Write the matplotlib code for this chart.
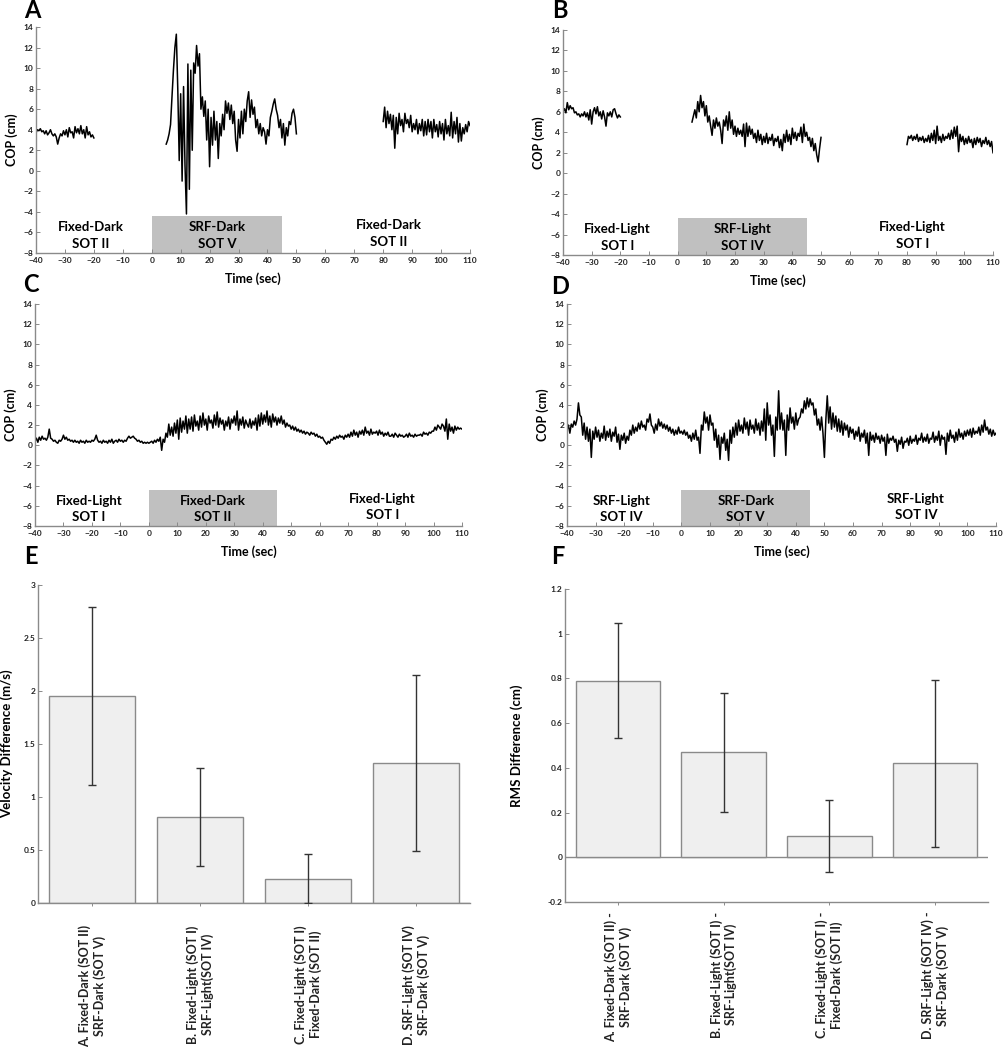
import numpy as np
import matplotlib.pyplot as plt
from matplotlib.patches import Rectangle

plt.rcParams['font.family'] = ['Lato', 'DejaVu Sans']
plt.rcParams['font.weight'] = 'bold'
plt.rcParams['axes.labelweight'] = 'bold'

dt = 0.5  # sample spacing (s) of the values

# ---- panel A: Fixed-Dark / SRF-Dark / Fixed-Dark
a_pre = [3.7, 4.0, 3.9, 4.1, 3.8, 3.9, 3.6, 3.9, 3.5, 3.7,
         4.0, 3.6, 3.4, 3.6, 3.3, 2.6, 3.2, 3.6, 3.4, 3.9,
         3.5, 4.0, 3.3, 4.2, 3.7, 3.8, 3.2, 4.3, 3.7, 4.1,
         3.6, 4.4, 3.6, 4.0, 3.2, 4.3, 3.5, 3.8, 3.3, 3.5, 3.2]
a_mid = [2.6, 3.0, 3.6, 4.5, 7.2, 9.8, 12.0, 13.3, 8.0, 1.0,
         7.5, -1.0, 8.2, 0.5, -4.2, 10.4, -1.8, 9.8, 2.0, 10.5,
         9.5, 12.2, 10.2, 11.4, 6.0, 7.2, 5.3, 6.8, 3.0, 6.0,
         0.4, 5.2, 2.5, 5.8, 3.0, 4.8, 1.2, 4.6, 3.4, 5.5,
         4.0, 6.8, 5.6, 6.6, 5.0, 6.4, 4.6, 5.8, 3.0, 1.9,
         5.0, 3.2, 5.8, 3.6, 6.0, 4.8, 6.8, 7.7, 5.2, 6.9,
         5.5, 6.2, 4.2, 5.0, 3.6, 4.6, 3.4, 4.2, 3.8, 2.6,
         4.0, 3.4, 5.2, 5.8, 6.5, 7.0, 6.0, 5.4, 4.2, 5.0,
         3.2, 4.6, 2.5, 4.2, 3.4, 4.8, 4.5, 5.6, 6.0, 5.2, 3.6]
a_post = [4.8, 6.2, 4.2, 5.8, 4.6, 5.5, 4.0, 5.4, 2.2,
          5.2, 3.6, 5.6, 4.4, 5.0, 3.8, 5.6, 4.6,
          5.0, 4.2, 5.4, 3.8, 4.6, 4.0, 5.0, 3.6,
          4.6, 3.9, 5.0, 3.4, 4.8, 3.5, 5.0, 3.8,
          4.8, 3.2, 5.0, 3.8, 4.5, 3.3, 4.8, 3.6,
          4.6, 3.0, 5.0, 3.6, 4.4, 3.4, 5.7, 3.2,
          4.8, 3.6, 5.2, 2.8, 4.6, 2.9, 4.2, 3.6,
          4.5, 3.8, 4.8, 4.4]

# ---- panel B: Fixed-Light / SRF-Light / Fixed-Light
b_pre = [6.0, 6.3, 5.9, 6.9, 6.2, 6.6, 6.3, 6.4, 5.9,
         6.0, 5.7, 5.8, 5.5, 5.8, 5.6, 6.0, 5.5,
         5.9, 5.2, 6.2, 4.8, 6.0, 6.4, 5.8, 6.5,
         5.6, 6.0, 5.3, 6.1, 5.5, 4.6, 5.9, 5.6,
         6.0, 5.5, 6.2, 6.3, 5.8, 5.4, 5.7, 5.5]
b_mid = [5.0, 5.6, 6.2, 5.4, 7.0, 6.0, 7.6, 6.4, 7.0,
         5.6, 6.6, 5.0, 5.6, 4.6, 3.7, 5.2, 4.4,
         5.4, 4.6, 5.0, 4.2, 2.9, 5.2, 4.6, 5.6,
         4.2, 6.0, 4.4, 5.2, 3.8, 4.6, 3.6, 4.4,
         3.8, 4.2, 3.6, 4.8, 2.6, 4.9, 3.6, 4.6,
         3.8, 4.3, 3.4, 3.9, 3.0, 4.2, 3.2, 3.8,
         2.8, 3.6, 3.0, 3.9, 2.9, 3.5, 3.2, 3.8,
         2.7, 3.4, 3.1, 3.6, 2.5, 3.3, 2.2, 3.8,
         3.0, 4.2, 3.1, 3.8, 2.8, 4.4, 3.4, 4.0,
         3.2, 3.9, 3.6, 4.5, 3.0, 4.8, 3.6, 4.0,
         3.2, 3.5, 2.6, 3.4, 2.2, 2.9, 1.8, 1.1,
         2.4, 3.5]
b_post = [2.8, 3.6, 3.4, 3.7, 3.2, 3.6, 3.3, 3.8, 3.1,
          3.5, 3.2, 3.6, 3.0, 3.4, 3.1, 3.7, 3.0,
          3.9, 3.2, 4.2, 2.9, 4.6, 3.2, 3.6, 3.0,
          3.8, 3.2, 3.6, 3.4, 3.9, 3.3, 4.2, 3.4,
          4.5, 3.6, 4.6, 2.1, 3.8, 3.1, 3.6, 2.8,
          3.4, 2.9, 3.6, 3.0, 3.3, 2.5, 3.4, 2.8,
          3.5, 3.0, 3.4, 2.6, 3.2, 2.9, 3.5, 2.8,
          3.2, 2.6, 3.1, 2.0]

# ---- panel C: Fixed-Light / Fixed-Dark / Fixed-Light (continuous from -40 s)
c_cop = [0.4, 0.7, 0.3, 0.8, 0.5, 0.9, 0.6, 0.7, 0.5, 0.8,
         1.6, 0.7, 0.6, 0.4, 0.5, 0.3, 0.2, 0.5, 0.4, 0.6,
         1.0, 0.6, 0.8, 0.5, 0.6, 0.4, 0.5, 0.3, 0.5, 0.3,
         0.4, 0.2, 0.5, 0.3, 0.4, 0.2, 0.5, 0.3, 0.4, 0.3,
         0.5, 0.4, 0.6, 1.0, 0.5, 0.3, 0.4, 0.2, 0.5, 0.3,
         0.4, 0.2, 0.5, 0.3, 0.6, 0.2, 0.4, 0.5, 0.3, 0.6,
         0.4, 0.5, 0.3, 0.5, 0.4, 0.7, 0.9, 0.7, 0.8, 0.9,
         0.7, 0.6, 0.4, 0.5, 0.3, 0.4, 0.2, 0.3, 0.2, 0.3,
         0.2, 0.3, 0.4, 0.2, 0.5, 0.3, 0.6, 0.4, 0.8, -0.5,
         0.6, 0.3, 1.2, 0.8, 2.1, 1.0, 1.8, 0.9, 2.2, 1.2,
         2.5, 0.6, 2.7, 1.3, 2.4, 1.6, 2.9, 1.2, 2.6, 1.6,
         2.8, 1.4, 3.0, 1.9, 2.4, 1.5, 2.9, 1.8, 3.2, 2.0,
         2.6, 1.5, 2.9, 2.2, 2.5, 1.7, 3.0, 2.0, 3.3, 1.8,
         2.7, 2.1, 2.5, 1.5, 2.4, 1.9, 2.8, 1.6, 2.6, 2.2,
         2.9, 2.0, 3.4, 1.5, 2.6, 2.0, 2.8, 1.7, 2.5, 2.1,
         1.8, 2.6, 1.7, 2.4, 2.0, 2.7, 1.5, 3.0, 1.9, 3.2,
         2.1, 3.0, 2.3, 3.4, 2.0, 2.9, 1.8, 3.1, 2.3, 2.8,
         2.0, 2.7, 2.2, 2.9, 2.1, 2.5, 1.8, 2.2, 1.9, 2.0,
         1.6, 1.9, 1.5, 1.8, 1.4, 1.6, 1.3, 1.5, 1.2, 1.4,
         1.1, 1.3, 1.2, 1.0, 1.3, 1.1, 1.2, 0.9, 1.1, 0.8,
         0.9, 0.7, 0.8, 0.5, 0.3, 0.1, 0.4, 0.2, 0.6, 0.5,
         0.8, 0.6, 0.9, 0.7, 1.0, 0.8, 0.9, 0.6, 1.0, 0.8,
         1.1, 0.8, 1.3, 0.9, 1.5, 1.0, 1.3, 0.8, 1.4, 1.1,
         1.5, 1.0, 1.8, 1.2, 1.4, 1.0, 1.6, 1.1, 1.3, 1.2,
         1.4, 1.0, 1.5, 1.1, 1.3, 0.9, 1.2, 1.0, 1.3, 0.9,
         0.9, 1.1, 0.8, 1.2, 1.0, 0.8, 1.1, 0.9, 1.0, 0.8,
         0.9, 1.1, 0.8, 1.2, 0.9, 1.0, 0.8, 1.1, 0.9, 1.0,
         1.0, 1.1, 0.9, 1.3, 1.1, 1.2, 1.0, 1.3, 1.2, 1.4,
         1.4, 1.8, 1.5, 2.0, 1.8, 1.6, 2.1, 1.9, 1.4, 2.6,
         0.6, 2.1, 1.4, 1.8, 1.2, 1.9, 1.5, 1.8, 1.6, 1.7,
         1.6]

# ---- panel D: SRF-Light / SRF-Dark / SRF-Light (continuous from -40 s)
d_cop = [1.5, 2.0, 1.2, 2.1, 1.8, 2.4, 2.0, 2.6, 4.2, 3.0,
         2.8, 1.0, 2.2, 0.6, 1.8, 0.4, 1.6, -1.2, 1.4, 0.6,
         1.8, 0.8, 1.5, 0.4, 1.2, 0.7, 1.9, 0.5, 1.4, 0.8,
         1.6, 0.4, 1.3, 0.9, 1.8, 0.3, 1.1, -0.4, 1.0, 0.5,
         1.2, 0.2, 0.9, 0.5, 1.5, 1.0, 2.0, 1.2, 1.8, 1.4,
         2.2, 1.6, 2.4, 1.8, 2.0, 1.5, 2.6, 2.3, 3.1, 2.0,
         1.8, 1.2, 2.1, 1.5, 2.6, 1.9, 2.3, 1.7, 2.1, 1.6,
         2.0, 1.4, 1.8, 1.2, 1.6, 1.0, 1.5, 1.1, 1.8, 1.2,
         1.4, 1.1, 1.5, 1.0, 1.3, 0.7, 1.0, 0.4, 1.2, 0.6,
         1.5, 0.5, 0.8, -0.8, 2.0, 1.5, 3.3, 2.2, 2.8, 1.5,
         3.0, 2.0, 2.2, 0.5, 1.6, -0.2, 1.0, -1.4, 0.8, 0.2,
         1.2, -0.5, 0.6, -1.5, 1.5, 0.2, 1.8, 0.8, 2.2, 1.0,
         2.5, 1.4, 2.0, 1.2, 2.7, 1.6, 2.3, 1.0, 2.5, 1.6,
         2.0, 1.2, 2.6, 1.5, 2.2, 1.0, 2.4, 1.4, 3.6, 0.5,
         4.2, 2.0, 3.0, 1.0, 2.0, -1.1, 2.8, 1.5, 5.4, 1.6,
         3.2, 1.5, 2.5, -1.0, 3.0, 1.5, 3.7, 2.2, 2.8, 1.6,
         3.2, 2.0, 2.6, 2.8, 3.6, 3.2, 4.4, 3.6, 4.7, 3.8,
         4.6, 4.0, 4.2, 3.0, 3.6, 2.0, 2.6, 1.5, 2.8, 1.2,
         -1.2, 2.5, 4.9, 2.2, 3.8, 1.6, 3.2, 1.8, 2.9, 1.4,
         2.6, 1.3, 2.4, 1.0, 2.2, 1.5, 2.0, 0.8, 1.8, 1.2,
         1.6, 0.6, 1.4, 0.9, 1.8, 0.4, 1.2, 0.8, 1.5, 0.2,
         1.2, -1.0, 1.3, 0.5, 1.0, 0.3, 1.2, 0.6, 0.9, 0.2,
         1.0, 0.4, 0.8, -1.0, 1.1, 0.2, 0.7, 0.5, 0.9, 0.3,
         0.6, -0.6, 0.5, 0.1, 0.8, -0.3, 0.4, 0.3, 0.7, 0.0,
         0.9, 0.2, 0.6, 0.4, 1.0, 0.1, 0.7, 0.5, 1.2, 0.3,
         0.8, 0.4, 1.1, 0.2, 0.7, 0.6, 1.3, 0.3, 0.9, 0.5,
         1.4, 0.0, 1.0, 0.6, 0.8, -0.9, 1.2, 0.4, 1.5, 0.7,
         1.0, 0.3, 1.3, 0.5, 1.6, 0.8, 1.2, 0.6, 1.4, 0.9,
         1.5, 1.0, 1.6, 0.8, 1.7, 1.1, 1.4, 1.2, 1.8, 1.0,
         2.0, 1.3, 2.5, 1.5, 1.8, 1.1, 1.6, 0.9, 1.5, 1.0,
         1.2]

# ---- panels E / F: differences between conditions
vel_diff = [1.95, 0.81, 0.23, 1.32]
vel_err = [0.84, 0.46, 0.23, 0.83]
rms_diff = [0.79, 0.47, 0.095, 0.42]
rms_err = [0.257, 0.267, 0.162, 0.375]
labels_e = ['A. Fixed-Dark (SOT II)\nSRF-Dark (SOT V)',
            'B. Fixed-Light (SOT I)\nSRF-Light(SOT IV)',
            'C. Fixed-Light (SOT I)\nFixed-Dark (SOT II)',
            'D. SRF-Light (SOT IV)\nSRF-Dark (SOT V)']
labels_f = ['A. Fixed-Dark (SOT II) -\nSRF-Dark (SOT V)',
            'B. Fixed-Light (SOT I) -\nSRF-Light(SOT IV)',
            'C. Fixed-Light (SOT I) -\nFixed-Dark (SOT II)',
            'D. SRF-Light (SOT IV) -\nSRF-Dark (SOT V)']

GRAY = '#8a8a8a'


def style_axes(ax):
    for s in ['top', 'right']:
        ax.spines[s].set_visible(False)
    for s in ['left', 'bottom']:
        ax.spines[s].set_color(GRAY)
        ax.spines[s].set_linewidth(1.0)
    ax.tick_params(direction='in', length=3, width=0.7, color=GRAY,
                   labelsize=6, pad=2, labelcolor='#222222')


def cop_panel(ax, segments, conds):
    for start, vals in segments:
        t = start + dt * np.arange(len(vals))
        ax.plot(t, vals, color='black', lw=1.1)
    ax.add_patch(Rectangle((0, -8), 45, 3.6, facecolor='#c0c0c0',
                           edgecolor='none', zorder=0))
    for x, y, txt in zip([-21, 22.5, 82], [-6.3, -6.3, -6.1], conds):
        ax.text(x, y, txt, ha='center', va='center', fontsize=9.5,
                linespacing=1.45)
    ax.set_xlim(-40, 110)
    ax.set_ylim(-8, 14)
    ax.set_xticks(np.arange(-40, 111, 10))
    ax.set_yticks(np.arange(-8, 15, 2))
    ax.set_xlabel('Time (sec)', fontsize=9, labelpad=6)
    ax.set_ylabel('COP (cm)', fontsize=9, labelpad=4)
    style_axes(ax)
    ax.tick_params(axis='x', pad=3)


def bar_panel(ax, vals, errs, labels, ylim, yticks, ylab, lab_pad):
    pos = np.arange(1, len(vals) + 1)
    ax.bar(pos, vals, width=0.8, color='#efefef', edgecolor=GRAY, lw=1.0,
           zorder=2)
    ax.errorbar(pos, vals, yerr=errs, fmt='none', ecolor='#333333',
                elinewidth=1.0, capsize=3, capthick=1.0, zorder=3)
    ax.axhline(0, color=GRAY, lw=1.0, zorder=1)
    ax.set_xlim(0.5, 4.5)
    ax.set_ylim(*ylim)
    ax.set_yticks(yticks)
    ax.set_yticklabels([('%g' % v) for v in yticks])
    ax.set_xticks(pos)
    ax.set_xticklabels(labels, rotation=90, ha='center', va='top',
                       multialignment='center')
    ax.set_ylabel(ylab, fontsize=9.5)
    style_axes(ax)
    ax.tick_params(axis='x', length=2, direction='out', labelsize=9,
                   pad=lab_pad)


fig = plt.figure(figsize=(10.04, 10.5), dpi=100)
W, H = 1004.0, 1050.0


def add_ax(l, r, t, b):
    return fig.add_axes([l / W, 1 - b / H, (r - l) / W, (b - t) / H])


ax_a = add_ax(36, 470, 27, 253)
ax_b = add_ax(563, 993, 30, 255)
ax_c = add_ax(35, 462, 304, 526)
ax_d = add_ax(567, 996, 304, 526)
ax_e = add_ax(38, 470, 585, 903)
ax_f = add_ax(565, 988, 589, 902)

cop_panel(ax_a, [(-40, a_pre), (5, a_mid), (80, a_post)],
          ['Fixed-Dark\nSOT II', 'SRF-Dark\nSOT V', 'Fixed-Dark\nSOT II'])
cop_panel(ax_b, [(-40, b_pre), (5, b_mid), (80, b_post)],
          ['Fixed-Light\nSOT I', 'SRF-Light\nSOT IV', 'Fixed-Light\nSOT I'])
cop_panel(ax_c, [(-40, c_cop)],
          ['Fixed-Light\nSOT I', 'Fixed-Dark\nSOT II', 'Fixed-Light\nSOT I'])
cop_panel(ax_d, [(-40, d_cop)],
          ['SRF-Light\nSOT IV', 'SRF-Dark\nSOT V', 'SRF-Light\nSOT IV'])

bar_panel(ax_e, vel_diff, vel_err, labels_e, (0, 3),
          [0, 0.5, 1, 1.5, 2, 2.5, 3], 'Velocity Difference (m/s)', 14)
bar_panel(ax_f, rms_diff, rms_err, labels_f, (-0.2, 1.2),
          [-0.2, 0, 0.2, 0.4, 0.6, 0.8, 1, 1.2], 'RMS Difference (cm)', 5)
ax_e.yaxis.set_label_coords(-0.058, 0.5)
ax_f.yaxis.set_label_coords(-0.10, 0.5)

for txt, x, y in [('A', 32, 11), ('B', 560, 11), ('C', 31, 285),
                  ('D', 560, 287), ('E', 31, 556), ('F', 558, 557)]:
    fig.text(x / W, 1 - y / H, txt, ha='center', va='center', fontsize=17)

fig.savefig('out.png', dpi=100)
